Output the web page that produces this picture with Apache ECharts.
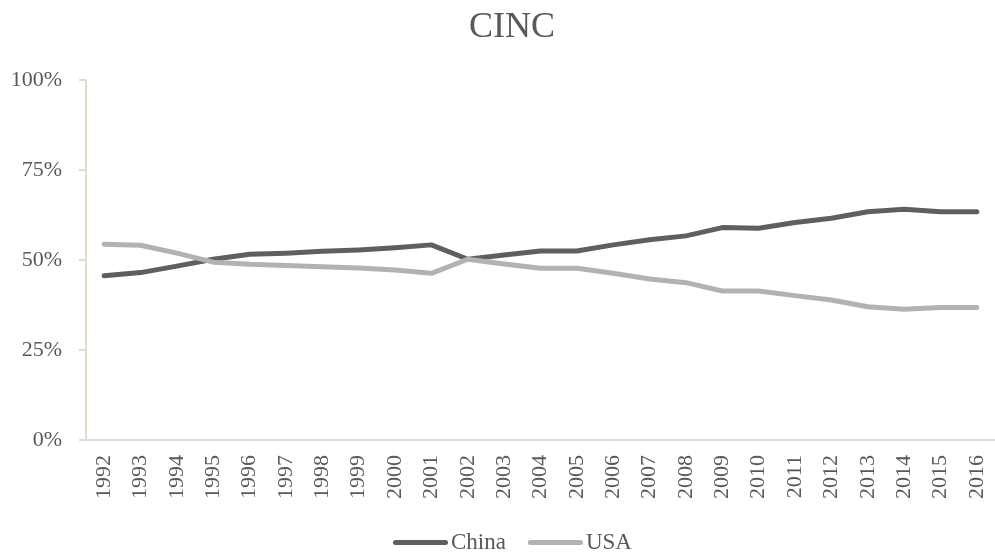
<!DOCTYPE html>
<html>
<head>
<meta charset="utf-8">
<script src="https://cdn.jsdelivr.net/npm/echarts@6/dist/echarts.min.js"></script>
<style>
  html, body { margin: 0; padding: 0; background: #ffffff; }
  #chart { width: 995px; height: 554px; }
</style>
</head>
<body>
<div id="chart"></div>
<script>
// Composite Index of National Capability: relative shares, China vs USA
const years = ['1992','1993','1994','1995','1996','1997','1998','1999','2000','2001','2002','2003','2004',
               '2005','2006','2007','2008','2009','2010','2011','2012','2013','2014','2015','2016'];
const china = [45.6, 46.5, 48.3, 50.2, 51.6, 51.9, 52.4, 52.8, 53.4, 54.2, 50.2, 51.4, 52.5,
               52.5, 54.2, 55.6, 56.7, 59.0, 58.8, 60.4, 61.6, 63.4, 64.1, 63.4, 63.4];
const usa   = [54.4, 54.1, 51.9, 49.4, 48.8, 48.5, 48.1, 47.8, 47.2, 46.3, 50.2, 48.9, 47.7,
               47.7, 46.3, 44.7, 43.7, 41.4, 41.4, 40.1, 38.9, 37.0, 36.3, 36.8, 36.8];
const yTicks = [0, 25, 50, 75, 100];

const FONT = 'Liberation Serif';
const TEXT = '#595959';
// rounded bar used as the legend key
const KEY = 'path://M2.5,0 L52.5,0 A2.5,2.5 0 0 1 52.5,5 L2.5,5 A2.5,2.5 0 0 1 2.5,0 Z';

const chart = echarts.init(document.getElementById('chart'), null, { renderer: 'canvas' });
chart.setOption({
  animation: false,
  backgroundColor: '#ffffff',
  title: {
    text: 'CINC',
    left: 507,
    top: 5,
    textAlign: 'center',
    textStyle: { fontFamily: FONT, fontSize: 36, fontWeight: 'normal', color: TEXT }
  },
  legend: {
    data: [
      { name: 'China', icon: KEY },
      { name: 'USA', icon: KEY }
    ],
    left: 393,
    top: 531,
    padding: 0,
    itemWidth: 55,
    itemHeight: 5,
    itemGap: 22,
    textStyle: { fontFamily: FONT, fontSize: 23, color: TEXT, padding: [0, 0, 0, -2] }
  },
  grid: { left: 86, top: 80, width: 914, bottom: 114, containLabel: false },
  xAxis: {
    type: 'category',
    data: years,
    boundaryGap: true,
    axisLine: { show: true, lineStyle: { color: '#d9d9d9', width: 2 } },
    axisTick: { show: false },
    axisLabel: {
      rotate: 90, margin: 15, interval: 0,
      fontFamily: FONT, fontSize: 22, color: TEXT
    },
    splitLine: { show: false }
  },
  yAxis: {
    type: 'value',
    min: yTicks[0],
    max: yTicks[yTicks.length - 1],
    interval: 25,
    axisLine: { show: true, lineStyle: { color: '#e0dbc8', width: 2 } },
    axisTick: { show: true, inside: false, length: 7, lineStyle: { color: '#e0dbc8', width: 2 } },
    axisLabel: {
      margin: 24, fontFamily: FONT, fontSize: 22, color: TEXT,
      formatter: '{value}%'
    },
    splitLine: { show: false }
  },
  series: [
    {
      name: 'China', type: 'line', data: china, symbol: 'none',
      lineStyle: { color: '#5f5f5f', width: 5, cap: 'round', join: 'round' },
      itemStyle: { color: '#5f5f5f' }
    },
    {
      name: 'USA', type: 'line', data: usa, symbol: 'none',
      lineStyle: { color: '#b2b2b2', width: 5, cap: 'round', join: 'round' },
      itemStyle: { color: '#b2b2b2' }
    }
  ]
});
</script>
</body>
</html>
